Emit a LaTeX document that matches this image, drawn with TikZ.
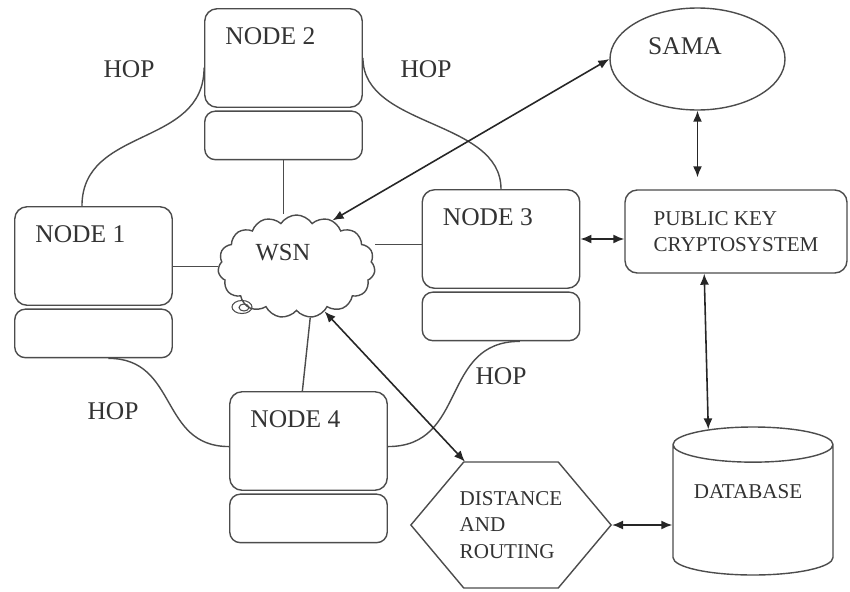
\documentclass[tikz,border=0pt]{standalone}
\usepackage{fontspec}
\setmainfont{Liberation Serif}
\usetikzlibrary{arrows.meta, positioning, shapes.geometric, shapes.symbols}

\begin{document}
\begin{tikzpicture}[
  box/.style={draw=black!70, line width=0.8pt, rounded corners=7pt, minimum width=3.15cm, minimum height=1.97cm},
  bar/.style={draw=black!70, line width=0.8pt, rounded corners=6pt, minimum width=3.15cm, minimum height=0.97cm},
  lbl/.style={inner sep=0pt, text=black!80, font=\fontsize{14.5}{17}\selectfont},
  small/.style={text=black!80, font=\fontsize{12}{15}\selectfont, align=left},
  link/.style={draw=black!70, line width=0.8pt},
  dbl/.style={{Latex[length=2.2mm,width=1.8mm]}-{Latex[length=2.2mm,width=1.8mm]}, line width=0.9pt, black!85}
]
\useasboundingbox (0,0) rectangle (17,11.82);

% sensor nodes with their lower bars
\foreach \n/\x/\y in {1/1.87/6.70, 2/5.67/10.66, 3/10.02/7.04, 4/6.17/3.00} {
  \node[box] (n\n) at (\x,\y) {};
  \node[bar, below=0.05cm of n\n] (m\n) {};
  \node[lbl, anchor=north west, xshift=0.42cm, yshift=-0.38cm] (t\n) at (n\n.north west) {NODE \n};
}

% the network cloud
\node[cloud, cloud puffs=15, cloud puff arc=115, aspect=1.5, draw=black!70, line width=0.8pt,
  minimum width=3.14cm, minimum height=2.06cm] (wsn) at (5.93,6.49) {};
\node[lbl, font=\fontsize{14}{16}\selectfont] (wsnt) at (5.66,6.76) {WSN};
\draw[black!70, line width=0.6pt] (4.84,5.68) ellipse (0.2 and 0.13);
\draw[black!70, line width=0.6pt] (4.88,5.67) ellipse (0.1 and 0.07);

% links to the cloud
\draw[link] (m2.south) -- (m2.south |- wsn.north);
\draw[link] (wsn.west) -- (wsn.west -| n1.east);
\draw[link] (n3.184) -- (n3.184 -| wsn.east);
\draw[link] (wsn.-75) -- (n4.97);

% hops between neighbours
\draw[link] (n1.103) .. controls +(0,1.6) and +(0,-1.6) .. (n2.187);
\draw[link] (n2.east) .. controls +(0,-1.4) and +(0,1.4) .. (n3.north);
\draw[link] (m3.-53) .. controls +(-1.6,0) and +(1.6,0) .. (n4.-4);
\draw[link] (m1.-59) .. controls +(1.4,0) and +(-1.4,0) .. (n4.184);
\node[lbl] (h1) at (2.58,10.44) {HOP};
\node[lbl] (h2) at (8.52,10.44) {HOP};
\node[lbl] (h3) at (2.26,3.60) {HOP};
\node[lbl] (h4) at (10.02,4.30) {HOP};

% key management side
\node[ellipse, draw=black!70, line width=0.8pt, minimum width=3.5cm, minimum height=2.04cm] (sama) at (13.95,10.64) {};
\node[lbl] (samat) at (13.70,10.90) {SAMA};
\node[draw=black!70, line width=0.8pt, rounded corners=7pt, minimum width=4.44cm, minimum height=1.66cm, small]
  (pkc) at (14.72,7.19) {PUBLIC KEY\\CRYPTOSYSTEM};
\node[cylinder, shape border rotate=90, shape aspect=3, draw=black!70, line width=0.8pt,
  minimum width=3.2cm, minimum height=2.96cm, anchor=shape center] (db) at (15.06,1.80) {};
\node[small] (dbt) at (14.96,1.98) {DATABASE};
\node[signal, signal to=east and west, signal pointer angle=100, draw=black!70, line width=0.8pt,
  minimum height=2.52cm, inner xsep=-2.3pt, small] (dr) at (10.22,1.32) {DISTANCE\\AND\\ROUTING};

% arrows
\draw[dbl] (wsn.52) -- (sama.west);
\draw[dbl, shorten >=0.24cm] (sama.south) -- (sama.south |- pkc.north);
\draw[dbl] (n3.east) -- (n3.east -| pkc.west);
\draw[dbl] (pkc.233) -- (db.118);
\draw[dbl] (wsn.-58) -- (dr.126);
\draw[dbl] (dr.east) -- (dr.east -| db.180);
\end{tikzpicture}
\end{document}
